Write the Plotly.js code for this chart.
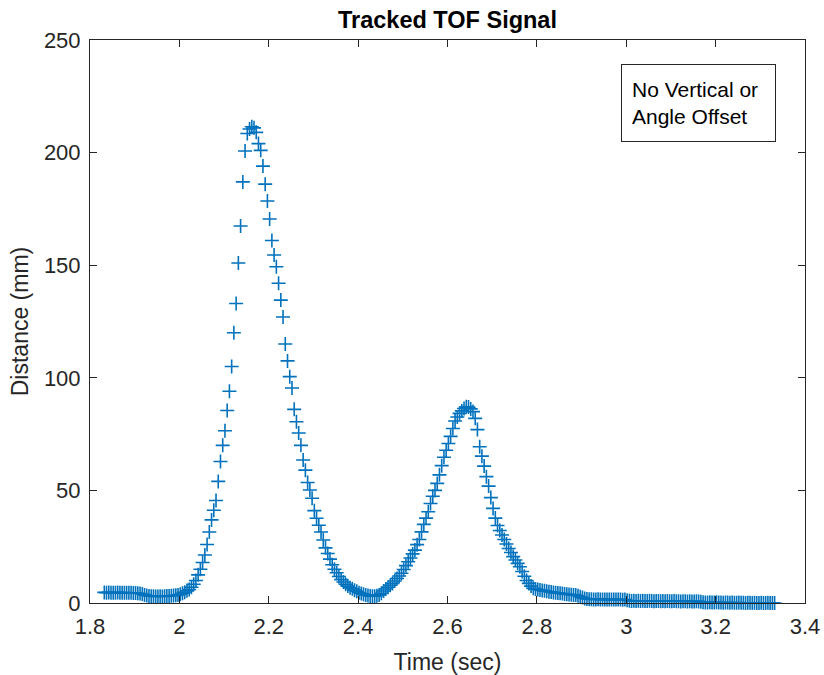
<!DOCTYPE html>
<html>
<head>
<meta charset="utf-8">
<script src="https://cdn.plot.ly/plotly-3.0.1.min.js"></script>
<style>
  html, body { margin: 0; padding: 0; background: #ffffff; }
  #chart { width: 824px; height: 675px; }
</style>
</head>
<body>
<div id="chart"></div>
<script>
// Tracked time-of-flight distance samples (time in seconds, distance in mm)
const timeSec = [
  1.832,1.837,1.842,1.847,1.852,1.857,1.862,1.867,1.872,1.877,
  1.882,1.887,1.892,1.897,1.902,1.907,1.912,1.917,1.922,1.927,
  1.932,1.937,1.942,1.947,1.952,1.957,1.962,1.967,1.972,1.977,
  1.982,1.987,1.992,1.997,2.002,2.007,2.012,2.017,2.022,2.027,
  2.032,2.037,2.042,2.047,2.052,2.057,2.062,2.067,2.072,2.077,
  2.082,2.087,2.092,2.097,2.102,2.107,2.112,2.117,2.122,2.127,
  2.132,2.137,2.142,2.147,2.152,2.157,2.162,2.167,2.172,2.177,
  2.182,2.187,2.192,2.197,2.202,2.207,2.212,2.217,2.222,2.227,
  2.232,2.237,2.242,2.247,2.252,2.257,2.262,2.267,2.272,2.277,
  2.282,2.287,2.292,2.297,2.302,2.307,2.312,2.317,2.322,2.327,
  2.332,2.337,2.342,2.347,2.352,2.357,2.362,2.367,2.372,2.377,
  2.382,2.387,2.392,2.397,2.402,2.407,2.412,2.417,2.422,2.427,
  2.432,2.437,2.442,2.447,2.452,2.457,2.462,2.467,2.472,2.477,
  2.482,2.487,2.492,2.497,2.502,2.507,2.512,2.517,2.522,2.527,
  2.532,2.537,2.542,2.547,2.552,2.557,2.562,2.567,2.572,2.577,
  2.582,2.587,2.592,2.597,2.602,2.607,2.612,2.617,2.622,2.627,
  2.632,2.637,2.642,2.647,2.652,2.657,2.662,2.667,2.672,2.677,
  2.682,2.687,2.692,2.697,2.702,2.707,2.712,2.717,2.722,2.727,
  2.732,2.737,2.742,2.747,2.752,2.757,2.762,2.767,2.772,2.777,
  2.782,2.787,2.792,2.797,2.802,2.807,2.812,2.817,2.822,2.827,
  2.832,2.837,2.842,2.847,2.852,2.857,2.862,2.867,2.872,2.877,
  2.882,2.887,2.892,2.897,2.902,2.907,2.912,2.917,2.922,2.927,
  2.932,2.937,2.942,2.947,2.952,2.957,2.962,2.967,2.972,2.977,
  2.982,2.987,2.992,2.997,3.002,3.007,3.012,3.017,3.022,3.027,
  3.032,3.037,3.042,3.047,3.052,3.057,3.062,3.067,3.072,3.077,
  3.082,3.087,3.092,3.097,3.102,3.107,3.112,3.117,3.122,3.127,
  3.132,3.137,3.142,3.147,3.152,3.157,3.162,3.167,3.172,3.177,
  3.182,3.187,3.192,3.197,3.202,3.207,3.212,3.217,3.222,3.227,
  3.232,3.237,3.242,3.247,3.252,3.257,3.262,3.267,3.272,3.277,
  3.282,3.287,3.292,3.297,3.302,3.307,3.312,3.317,3.322,3.327,
  3.332
];

const distanceMm = [
  4.7,4.6,4.7,4.6,4.5,4.6,4.7,4.6,4.5,4.6,
  4.6,4.5,4.5,4.4,4.4,4.3,4.2,4.0,3.6,3.3,
  3.1,3.0,3.0,2.9,2.9,3.0,2.9,3.0,3.1,3.1,
  3.2,3.3,3.4,3.6,3.9,4.3,4.8,5.4,6.0,7.0,
  8.3,10.0,12.5,15.0,18.0,21.3,26.0,31.5,36.9,41.2,
  45.5,54.0,62.8,70.0,76.5,85.5,94.0,105.0,120.0,133.0,
  151.0,167.4,187.0,200.7,208.5,210.5,211.5,211.0,209.0,204.0,
  201.0,194.0,186.0,178.5,170.5,161.0,154.5,149.3,142.0,134.5,
  127.0,115.0,107.5,100.5,95.5,86.0,80.5,75.5,70.0,63.5,
  59.0,53.5,50.2,46.5,41.0,37.6,34.5,31.5,28.0,24.5,
  22.0,19.5,17.0,15.0,13.4,11.8,10.4,9.3,8.3,7.5,
  6.8,6.3,5.7,5.2,4.6,4.2,3.9,3.6,3.3,3.1,
  3.0,3.0,3.2,3.6,4.3,5.3,6.2,7.0,7.9,8.7,
  9.8,10.9,12.0,13.2,14.9,16.6,18.3,20.0,21.8,23.5,
  25.9,28.2,31.6,34.9,37.7,40.5,44.2,47.4,50.0,53.1,
  56.9,61.0,64.7,67.8,70.8,74.0,77.5,80.8,82.6,84.2,
  85.3,86.4,87.1,87.0,86.2,85.0,82.0,77.0,69.4,65.2,
  60.8,56.1,51.9,46.8,42.0,37.7,34.4,32.2,30.2,28.2,
  26.2,24.2,22.4,20.6,19.1,17.6,16.1,14.0,11.9,10.0,
  8.7,7.5,6.5,6.2,6.0,5.8,5.6,5.4,5.2,5.0,
  4.9,4.7,4.5,4.4,4.3,4.2,4.0,3.9,3.8,3.7,
  3.6,3.5,3.2,2.8,2.4,2.0,1.8,1.7,1.7,1.6,
  1.6,1.7,1.6,1.5,1.6,1.6,1.5,1.6,1.5,1.5,
  1.6,1.5,1.4,1.5,1.2,1.0,0.9,1.0,0.9,1.0,
  0.9,1.0,0.9,0.9,1.0,0.9,0.8,0.9,0.9,0.8,
  0.9,0.8,0.9,0.8,0.8,0.9,0.8,0.8,0.7,0.8,
  0.8,0.7,0.8,0.7,0.7,0.8,0.7,0.5,0.3,0.2,
  0.2,0.3,0.2,0.2,0.3,0.2,0.2,0.1,0.2,0.2,
  0.1,0.2,0.1,0.1,0.2,0.1,0.1,0.0,0.1,0.1,
  0.0,0.1,0.0,0.0,0.1,0.0,0.0,0.1,0.0,0.0,
  0.0
];

// Axis ticks
const xTickVals = [1.8, 2.0, 2.2, 2.4, 2.6, 2.8, 3.0, 3.2, 3.4];
const xTickText = ["1.8", "2", "2.2", "2.4", "2.6", "2.8", "3", "3.2", "3.4"];
const yTickVals = [0, 50, 100, 150, 200, 250];
const yTickText = ["0", "50", "100", "150", "200", "250"];

const FONT = "Liberation Sans, Arial, Helvetica, sans-serif";
const AXIS_GRAY = "#262626";

const trace = {
  x: timeSec,
  y: distanceMm,
  type: "scatter",
  mode: "markers",
  cliponaxis: false,
  marker: {
    symbol: "cross-thin",
    size: 10,
    color: "#0072BD",
    line: { width: 1.6, color: "#0072BD" }
  },
  hoverinfo: "x+y"
};

const axisCommon = {
  showgrid: false,
  zeroline: false,
  showline: true,
  linecolor: AXIS_GRAY,
  linewidth: 1,
  mirror: "ticks",
  ticks: "inside",
  ticklen: 7,
  tickwidth: 1,
  tickcolor: AXIS_GRAY,
  tickfont: { family: FONT, size: 22, color: AXIS_GRAY },
  automargin: false
};

const layout = {
  width: 824,
  height: 675,
  margin: { l: 90, r: 19, t: 40, b: 72 },
  paper_bgcolor: "#ffffff",
  plot_bgcolor: "#ffffff",
  showlegend: false,
  title: {
    text: "<b>Tracked TOF Signal</b>",
    font: { family: FONT, size: 23.5, color: "#000000" },
    xref: "paper",
    x: 0.5,
    xanchor: "center",
    yref: "container",
    y: 1 - 20 / 675,
    yanchor: "middle"
  },
  xaxis: Object.assign({}, axisCommon, {
    range: [1.8, 3.4],
    tickmode: "array",
    tickvals: xTickVals,
    ticktext: xTickText,
    ticklabelstandoff: 4,
    title: { text: "Time (sec)", font: { family: FONT, size: 23, color: AXIS_GRAY }, standoff: 16 }
  }),
  yaxis: Object.assign({}, axisCommon, {
    range: [0, 250],
    tickmode: "array",
    tickvals: yTickVals,
    ticktext: yTickText,
    ticklabelstandoff: 4,
    title: { text: "Distance (mm)", font: { family: FONT, size: 23, color: AXIS_GRAY }, standoff: 8 }
  }),
  annotations: [{
    xref: "paper",
    yref: "paper",
    x: (621 - 90) / 715,
    y: (603 - 64) / 563,
    xanchor: "left",
    yanchor: "top",
    showarrow: false,
    text: "No Vertical or<br>Angle Offset",
    align: "left",
    valign: "middle",
    width: 133,
    height: 56,
    borderpad: 10,
    borderwidth: 1,
    bordercolor: AXIS_GRAY,
    bgcolor: "#ffffff",
    font: { family: FONT, size: 21, color: "#000000" }
  }]
};

Plotly.newPlot("chart", [trace], layout, { displayModeBar: false, staticPlot: true });
</script>
</body>
</html>
